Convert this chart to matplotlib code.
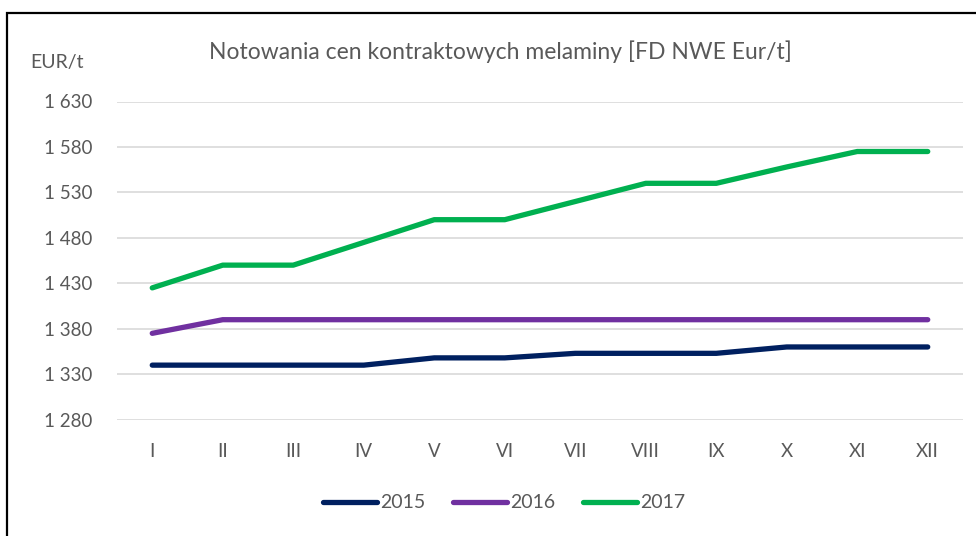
import matplotlib.pyplot as plt
from matplotlib.patches import Rectangle
from matplotlib.ticker import FuncFormatter

plt.rcParams['font.family'] = ['Lato', 'DejaVu Sans']

months = ["I", "II", "III", "IV", "V", "VI", "VII", "VIII", "IX", "X", "XI", "XII"]
y2015 = [1340, 1340, 1340, 1340, 1348, 1348, 1353, 1353, 1353, 1360, 1360, 1360]
y2016 = [1375, 1390, 1390, 1390, 1390, 1390, 1390, 1390, 1390, 1390, 1390, 1390]
y2017 = [1425, 1450, 1450, 1475, 1500, 1500, 1520, 1540, 1540, 1558, 1575, 1575]

grey = "#595959"

fig = plt.figure(figsize=(9.76, 5.36), dpi=100)
ax = fig.add_axes([117/976, 1 - 419.7/536, (963-117)/976, (419.7-101.5)/536])

x = range(len(months))
ax.plot(x, y2015, color="#002060", lw=3.8, solid_capstyle="round", label="2015")
ax.plot(x, y2016, color="#7030A0", lw=3.8, solid_capstyle="round", label="2016")
ax.plot(x, y2017, color="#00B050", lw=3.8, solid_capstyle="round", label="2017")

ax.set_xlim(-0.5, len(months) - 0.5)
ax.set_ylim(1280, 1630)
ax.set_yticks(range(1280, 1631, 50))
ax.yaxis.set_major_formatter(FuncFormatter(lambda v, p: f"{int(v):,}".replace(",", " ")))
ax.set_xticks(list(x))
ax.set_xticklabels(months)
ax.tick_params(length=0, labelsize=13.5, colors=grey, pad=0)
ax.tick_params(axis="y", pad=18)
ax.tick_params(axis="x", pad=17)
ax.grid(axis="y", color="#D9D9D9", lw=1.2)
ax.set_axisbelow(True)
for s in ax.spines.values():
    s.set_visible(False)

fig.text(500/976, 1 - 52/536, "Notowania cen kontraktowych melaminy [FD NWE Eur/t]",
         ha="center", va="center", fontsize=16.5, color=grey)
fig.text(30/976, 1 - 62/536, "EUR/t", ha="left", va="center", fontsize=14, color=grey)

leg = fig.legend(loc="center", bbox_to_anchor=(504/976, 1 - 503/536), ncol=3,
                 frameon=False, fontsize=14, handlelength=2.8, columnspacing=1.4,
                 handletextpad=0.15)
for t in leg.get_texts():
    t.set_color(grey)

fig.patches.append(Rectangle((7/976, -0.1), 1.2, 1 - 13/536 + 0.1, transform=fig.transFigure,
                             fill=False, edgecolor="black", lw=1.6))

fig.savefig("out.png", dpi=100)
